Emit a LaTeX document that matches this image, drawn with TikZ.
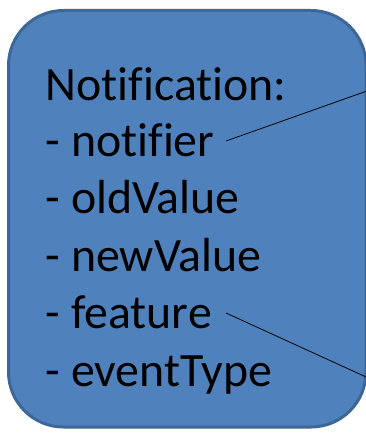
\documentclass[tikz,border=0pt]{standalone}
\usepackage{fontspec}
\setmainfont{Carlito}[Ligatures=NoCommon]
\definecolor{boxfill}{HTML}{4F81BD}
\definecolor{boxline}{HTML}{3C6797}
\begin{document}
\begin{tikzpicture}[x=1bp,y=-1bp]
\tikzset{
  lbl/.style={anchor=base west, inner sep=0pt, font=\fontsize{48}{50}\selectfont, text=black},
  conn/.style={draw=black, line width=0.8bp}
}
\useasboundingbox (0,0) rectangle (365,433);
\draw[fill=boxfill, draw=boxline, line width=3bp, rounded corners=55bp] (8.5,10.5) rectangle (366,427);
\node[lbl] (t0) at (45.5,100.5) {Notification:};
\node[lbl] (t1) at (45.5,157) {- notifier};
\node[lbl] (t2) at (45.5,214) {- oldValue};
\node[lbl] (t3) at (45.5,271) {- newValue};
\node[lbl] (t4) at (45.5,328) {- feature};
\node[lbl] (t5) at (45.5,386) {- eventType};
\coordinate (s1) at (226,141);
\coordinate (s4) at (226,313);
\coordinate (e1) at (372,89.2);
\coordinate (e4) at (372,379.7);
\draw[conn] (s1) -- (e1);
\draw[conn] (s4) -- (e4);
\end{tikzpicture}
\end{document}
